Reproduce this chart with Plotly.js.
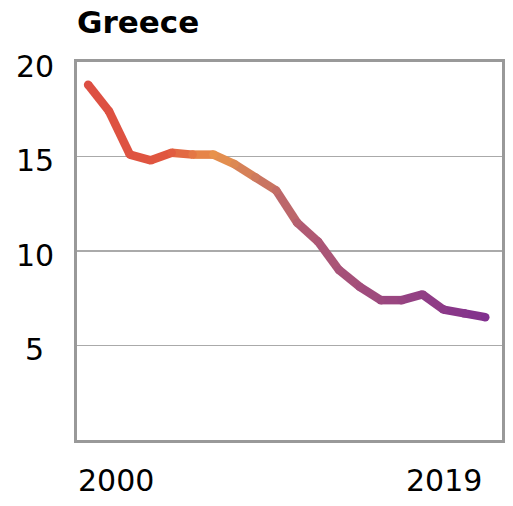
<!DOCTYPE html>
<html>
<head>
<meta charset="utf-8">
<script src="https://cdn.plot.ly/plotly-3.0.1.min.js"></script>
<style>html,body{margin:0;padding:0;background:#fff;}#chart{width:513px;height:506px;}</style>
</head>
<body>
<div id="chart"></div>
<script>
const title = "Greece";
const years = [2000,2001,2002,2003,2004,2005,2006,2007,2008,2009,2010,2011,2012,2013,2014,2015,2016,2017,2018,2019];
const values = [18.8,17.4,15.1,14.8,15.2,15.1,15.1,14.6,13.9,13.2,11.5,10.5,9.0,8.1,7.4,7.4,7.7,6.9,6.7,6.5];
const yTicks = [5,10,15,20];
const xTickLabels = ["2000","2019"];

const stops = [[0,[220,79,67]],[0.2,[224,87,63]],[0.32,[232,148,75]],[0.55,[176,90,115]],[1,[129,48,142]]];
function colorAt(t){
  for(let i=0;i<stops.length-1;i++){
    const a=stops[i],b=stops[i+1];
    if(t<=b[0]){
      const f=(t-a[0])/(b[0]-a[0]);
      const c=a[1].map((v,k)=>Math.round(v+(b[1][k]-v)*f));
      return 'rgb('+c.join(',')+')';
    }
  }
  return 'rgb('+stops[stops.length-1][1].join(',')+')';
}
const n = years.length;
const traces = [];
for(let i=0;i<n-1;i++){
  const t=(i+0.5)/(n-1);
  traces.push({x:[years[i],years[i+1]],y:[values[i],values[i+1]],mode:'lines',
    line:{color:colorAt(t),width:8.5},hoverinfo:'skip',showlegend:false});
}
traces.push({x:years,y:values,mode:'markers',
  marker:{size:8.5,color:years.map((_,i)=>colorAt(i/(n-1))),line:{width:0}},
  hoverinfo:'skip',showlegend:false});

const font = "DejaVu Sans, Verdana, sans-serif";
const annotations = [];
yTicks.forEach(v=>annotations.push({xref:'paper',yref:'y',x:-0.1,y:v,text:String(v),showarrow:false,
  xanchor:'center',yanchor:'middle',yshift:-4,font:{family:font,size:30,color:'#000'}}));
annotations.push({xref:'paper',yref:'paper',x:-0.003,y:-0.108,text:xTickLabels[0],showarrow:false,xanchor:'left',yanchor:'middle',font:{family:font,size:30,color:'#000'}});
annotations.push({xref:'paper',yref:'paper',x:0.958,y:-0.108,text:xTickLabels[1],showarrow:false,xanchor:'right',yanchor:'middle',font:{family:font,size:30,color:'#000'}});
annotations.push({xref:'paper',yref:'paper',x:-0.005,y:1.106,text:'<b>'+title+'</b>',showarrow:false,xanchor:'left',yanchor:'middle',font:{family:font,size:31,color:'#000'}});

const layout = {
  width:513,height:506,
  margin:{l:77,r:11,t:62,b:66,pad:0},
  paper_bgcolor:'#fff',plot_bgcolor:'#fff',
  showlegend:false,
  xaxis:{range:[1999.47,2019.8],showgrid:false,zeroline:false,showticklabels:false,ticks:'',
    showline:true,linecolor:'#999',linewidth:3,mirror:true},
  yaxis:{range:[0,20],tickvals:yTicks,showticklabels:false,ticks:'',showgrid:true,gridcolor:'#aaa',gridwidth:1.5,
    zeroline:false,showline:true,linecolor:'#999',linewidth:3,mirror:true},
  annotations:annotations
};
Plotly.newPlot('chart',traces,layout,{staticPlot:true,displayModeBar:false});
</script>
</body>
</html>
